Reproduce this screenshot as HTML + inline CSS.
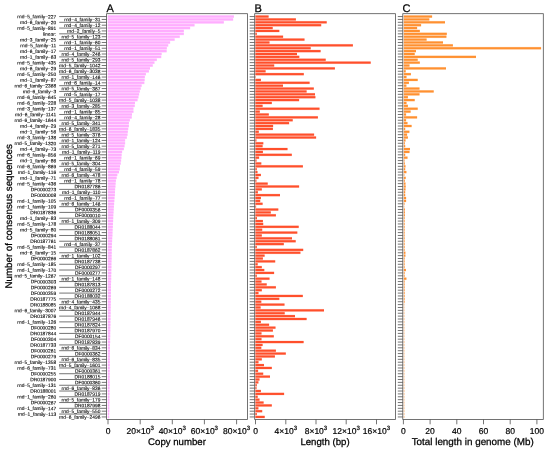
<!DOCTYPE html>
<html lang="en"><head><meta charset="utf-8"><title>Consensus sequences</title>
<style>html,body{margin:0;padding:0;background:#fff}svg{display:block}text{font-family:"Liberation Sans",Arial,Helvetica,sans-serif;fill:#000;text-rendering:geometricPrecision}.s{font-size:4.85px;stroke:#000;stroke-width:0.1px}.t{font-size:8.5px;stroke:#000;stroke-width:0.2px}.h{font-size:9.65px;stroke:#000;stroke-width:0.25px}.p{font-size:11px;stroke:#000;stroke-width:0.25px}</style></head><body>
<svg width="550" height="451" viewBox="0 0 550 451">
<rect width="550" height="451" fill="#fff"/>
<g fill="#FFADFF" fill-opacity="0.38">
<rect x="107.8" y="15.11" width="126.1" height="2.88"/>
<rect x="107.8" y="17.99" width="125.3" height="2.88"/>
<rect x="107.8" y="20.87" width="116.0" height="2.88"/>
<rect x="107.8" y="23.75" width="86.7" height="2.88"/>
<rect x="107.8" y="26.63" width="82.3" height="2.88"/>
<rect x="107.8" y="29.51" width="76.0" height="2.88"/>
<rect x="107.8" y="32.39" width="76.0" height="2.88"/>
<rect x="107.8" y="35.27" width="71.9" height="2.88"/>
<rect x="107.8" y="38.15" width="66.8" height="2.88"/>
<rect x="107.8" y="41.03" width="62.3" height="2.88"/>
<rect x="107.8" y="43.91" width="60.4" height="2.88"/>
<rect x="107.8" y="46.80" width="59.0" height="2.88"/>
<rect x="107.8" y="49.68" width="58.8" height="2.88"/>
<rect x="107.8" y="52.56" width="53.8" height="2.88"/>
<rect x="107.8" y="55.44" width="53.4" height="2.88"/>
<rect x="107.8" y="58.32" width="49.0" height="2.88"/>
<rect x="107.8" y="61.20" width="46.6" height="2.88"/>
<rect x="107.8" y="64.08" width="44.9" height="2.88"/>
<rect x="107.8" y="66.96" width="42.2" height="2.88"/>
<rect x="107.8" y="69.84" width="41.1" height="2.88"/>
<rect x="107.8" y="72.72" width="38.1" height="2.88"/>
<rect x="107.8" y="75.60" width="37.0" height="2.88"/>
<rect x="107.8" y="78.48" width="36.8" height="2.88"/>
<rect x="107.8" y="81.36" width="36.5" height="2.88"/>
<rect x="107.8" y="84.24" width="33.8" height="2.88"/>
<rect x="107.8" y="87.12" width="32.9" height="2.88"/>
<rect x="107.8" y="90.00" width="32.0" height="2.88"/>
<rect x="107.8" y="92.88" width="31.3" height="2.88"/>
<rect x="107.8" y="95.76" width="30.6" height="2.88"/>
<rect x="107.8" y="98.64" width="29.7" height="2.88"/>
<rect x="107.8" y="101.52" width="27.2" height="2.88"/>
<rect x="107.8" y="104.41" width="26.9" height="2.88"/>
<rect x="107.8" y="107.29" width="25.6" height="2.88"/>
<rect x="107.8" y="110.17" width="25.6" height="2.88"/>
<rect x="107.8" y="113.05" width="24.2" height="2.88"/>
<rect x="107.8" y="115.93" width="23.9" height="2.88"/>
<rect x="107.8" y="118.81" width="22.0" height="2.88"/>
<rect x="107.8" y="121.69" width="21.1" height="2.88"/>
<rect x="107.8" y="124.57" width="21.1" height="2.88"/>
<rect x="107.8" y="127.45" width="20.4" height="2.88"/>
<rect x="107.8" y="130.33" width="20.0" height="2.88"/>
<rect x="107.8" y="133.21" width="19.7" height="2.88"/>
<rect x="107.8" y="136.09" width="19.0" height="2.88"/>
<rect x="107.8" y="138.97" width="17.3" height="2.88"/>
<rect x="107.8" y="141.85" width="17.3" height="2.88"/>
<rect x="107.8" y="144.73" width="16.7" height="2.88"/>
<rect x="107.8" y="147.61" width="16.0" height="2.88"/>
<rect x="107.8" y="150.49" width="14.3" height="2.88"/>
<rect x="107.8" y="153.37" width="13.8" height="2.88"/>
<rect x="107.8" y="156.25" width="13.6" height="2.88"/>
<rect x="107.8" y="159.13" width="13.3" height="2.88"/>
<rect x="107.8" y="162.02" width="12.9" height="2.88"/>
<rect x="107.8" y="164.90" width="12.2" height="2.88"/>
<rect x="107.8" y="167.78" width="11.9" height="2.88"/>
<rect x="107.8" y="170.66" width="11.2" height="2.88"/>
<rect x="107.8" y="173.54" width="9.5" height="2.88"/>
<rect x="107.8" y="176.42" width="8.8" height="2.88"/>
<rect x="107.8" y="179.30" width="8.1" height="2.88"/>
<rect x="107.8" y="182.18" width="7.8" height="2.88"/>
<rect x="107.8" y="185.06" width="7.6" height="2.88"/>
<rect x="107.8" y="187.94" width="7.3" height="2.88"/>
<rect x="107.8" y="190.82" width="7.2" height="2.88"/>
<rect x="107.8" y="193.70" width="7.0" height="2.88"/>
<rect x="107.8" y="196.58" width="6.7" height="2.88"/>
<rect x="107.8" y="199.46" width="6.5" height="2.88"/>
<rect x="107.8" y="202.34" width="6.3" height="2.88"/>
<rect x="107.8" y="205.22" width="6.1" height="2.88"/>
<rect x="107.8" y="208.10" width="5.9" height="2.88"/>
<rect x="107.8" y="210.98" width="5.7" height="2.88"/>
<rect x="107.8" y="213.86" width="5.5" height="2.88"/>
<rect x="107.8" y="216.74" width="5.4" height="2.88"/>
<rect x="107.8" y="219.63" width="5.3" height="2.88"/>
<rect x="107.8" y="222.51" width="5.1" height="2.88"/>
<rect x="107.8" y="225.39" width="5.0" height="2.88"/>
<rect x="107.8" y="228.27" width="4.8" height="2.88"/>
<rect x="107.8" y="231.15" width="4.7" height="2.88"/>
<rect x="107.8" y="234.03" width="4.6" height="2.88"/>
<rect x="107.8" y="236.91" width="4.4" height="2.88"/>
<rect x="107.8" y="239.79" width="4.3" height="2.88"/>
<rect x="107.8" y="242.67" width="4.1" height="2.88"/>
<rect x="107.8" y="245.55" width="4.0" height="2.88"/>
<rect x="107.8" y="248.43" width="3.9" height="2.88"/>
<rect x="107.8" y="251.31" width="3.9" height="2.88"/>
<rect x="107.8" y="254.19" width="3.8" height="2.88"/>
<rect x="107.8" y="257.07" width="3.8" height="2.88"/>
<rect x="107.8" y="259.95" width="3.7" height="2.88"/>
<rect x="107.8" y="262.83" width="3.6" height="2.88"/>
<rect x="107.8" y="265.71" width="3.6" height="2.88"/>
<rect x="107.8" y="268.59" width="3.5" height="2.88"/>
<rect x="107.8" y="271.47" width="3.5" height="2.88"/>
<rect x="107.8" y="274.35" width="3.4" height="2.88"/>
<rect x="107.8" y="277.24" width="3.4" height="2.88"/>
<rect x="107.8" y="280.12" width="3.3" height="2.88"/>
<rect x="107.8" y="283.00" width="3.2" height="2.88"/>
<rect x="107.8" y="285.88" width="3.2" height="2.88"/>
<rect x="107.8" y="288.76" width="3.2" height="2.88"/>
<rect x="107.8" y="291.64" width="3.1" height="2.88"/>
<rect x="107.8" y="294.52" width="3.1" height="2.88"/>
<rect x="107.8" y="297.40" width="3.0" height="2.88"/>
<rect x="107.8" y="300.28" width="3.0" height="2.88"/>
<rect x="107.8" y="303.16" width="2.9" height="2.88"/>
<rect x="107.8" y="306.04" width="2.9" height="2.88"/>
<rect x="107.8" y="308.92" width="2.8" height="2.88"/>
<rect x="107.8" y="311.80" width="2.8" height="2.88"/>
<rect x="107.8" y="314.68" width="2.7" height="2.88"/>
<rect x="107.8" y="317.56" width="2.7" height="2.88"/>
<rect x="107.8" y="320.44" width="2.6" height="2.88"/>
<rect x="107.8" y="323.32" width="2.6" height="2.88"/>
<rect x="107.8" y="326.20" width="2.5" height="2.88"/>
<rect x="107.8" y="329.08" width="2.5" height="2.88"/>
<rect x="107.8" y="331.96" width="2.4" height="2.88"/>
<rect x="107.8" y="334.85" width="2.4" height="2.88"/>
<rect x="107.8" y="337.73" width="2.3" height="2.88"/>
<rect x="107.8" y="340.61" width="2.3" height="2.88"/>
<rect x="107.8" y="343.49" width="2.2" height="2.88"/>
<rect x="107.8" y="346.37" width="2.2" height="2.88"/>
<rect x="107.8" y="349.25" width="2.2" height="2.88"/>
<rect x="107.8" y="352.13" width="2.1" height="2.88"/>
<rect x="107.8" y="355.01" width="2.1" height="2.88"/>
<rect x="107.8" y="357.89" width="2.0" height="2.88"/>
<rect x="107.8" y="360.77" width="2.0" height="2.88"/>
<rect x="107.8" y="363.65" width="2.0" height="2.88"/>
<rect x="107.8" y="366.53" width="1.9" height="2.88"/>
<rect x="107.8" y="369.41" width="1.9" height="2.88"/>
<rect x="107.8" y="372.29" width="1.9" height="2.88"/>
<rect x="107.8" y="375.17" width="1.9" height="2.88"/>
<rect x="107.8" y="378.05" width="1.8" height="2.88"/>
<rect x="107.8" y="380.93" width="1.8" height="2.88"/>
<rect x="107.8" y="383.81" width="1.8" height="2.88"/>
<rect x="107.8" y="386.69" width="1.7" height="2.88"/>
<rect x="107.8" y="389.57" width="1.7" height="2.88"/>
<rect x="107.8" y="392.46" width="1.7" height="2.88"/>
<rect x="107.8" y="395.34" width="1.6" height="2.88"/>
<rect x="107.8" y="398.22" width="1.6" height="2.88"/>
<rect x="107.8" y="401.10" width="1.6" height="2.88"/>
<rect x="107.8" y="403.98" width="1.5" height="2.88"/>
<rect x="107.8" y="406.86" width="1.5" height="2.88"/>
<rect x="107.8" y="409.74" width="1.5" height="2.88"/>
<rect x="107.8" y="412.62" width="1.4" height="2.88"/>
<rect x="107.8" y="415.50" width="1.4" height="2.88"/>
</g>
<g fill="#FFADFF">
<rect x="107.8" y="15.50" width="126.1" height="2.1"/>
<rect x="107.8" y="18.38" width="125.3" height="2.1"/>
<rect x="107.8" y="21.26" width="116.0" height="2.1"/>
<rect x="107.8" y="24.14" width="86.7" height="2.1"/>
<rect x="107.8" y="27.02" width="82.3" height="2.1"/>
<rect x="107.8" y="29.90" width="76.0" height="2.1"/>
<rect x="107.8" y="32.78" width="76.0" height="2.1"/>
<rect x="107.8" y="35.66" width="71.9" height="2.1"/>
<rect x="107.8" y="38.54" width="66.8" height="2.1"/>
<rect x="107.8" y="41.42" width="62.3" height="2.1"/>
<rect x="107.8" y="44.31" width="60.4" height="2.1"/>
<rect x="107.8" y="47.19" width="59.0" height="2.1"/>
<rect x="107.8" y="50.07" width="58.8" height="2.1"/>
<rect x="107.8" y="52.95" width="53.8" height="2.1"/>
<rect x="107.8" y="55.83" width="53.4" height="2.1"/>
<rect x="107.8" y="58.71" width="49.0" height="2.1"/>
<rect x="107.8" y="61.59" width="46.6" height="2.1"/>
<rect x="107.8" y="64.47" width="44.9" height="2.1"/>
<rect x="107.8" y="67.35" width="42.2" height="2.1"/>
<rect x="107.8" y="70.23" width="41.1" height="2.1"/>
<rect x="107.8" y="73.11" width="38.1" height="2.1"/>
<rect x="107.8" y="75.99" width="37.0" height="2.1"/>
<rect x="107.8" y="78.87" width="36.8" height="2.1"/>
<rect x="107.8" y="81.75" width="36.5" height="2.1"/>
<rect x="107.8" y="84.63" width="33.8" height="2.1"/>
<rect x="107.8" y="87.51" width="32.9" height="2.1"/>
<rect x="107.8" y="90.39" width="32.0" height="2.1"/>
<rect x="107.8" y="93.27" width="31.3" height="2.1"/>
<rect x="107.8" y="96.15" width="30.6" height="2.1"/>
<rect x="107.8" y="99.03" width="29.7" height="2.1"/>
<rect x="107.8" y="101.92" width="27.2" height="2.1"/>
<rect x="107.8" y="104.80" width="26.9" height="2.1"/>
<rect x="107.8" y="107.68" width="25.6" height="2.1"/>
<rect x="107.8" y="110.56" width="25.6" height="2.1"/>
<rect x="107.8" y="113.44" width="24.2" height="2.1"/>
<rect x="107.8" y="116.32" width="23.9" height="2.1"/>
<rect x="107.8" y="119.20" width="22.0" height="2.1"/>
<rect x="107.8" y="122.08" width="21.1" height="2.1"/>
<rect x="107.8" y="124.96" width="21.1" height="2.1"/>
<rect x="107.8" y="127.84" width="20.4" height="2.1"/>
<rect x="107.8" y="130.72" width="20.0" height="2.1"/>
<rect x="107.8" y="133.60" width="19.7" height="2.1"/>
<rect x="107.8" y="136.48" width="19.0" height="2.1"/>
<rect x="107.8" y="139.36" width="17.3" height="2.1"/>
<rect x="107.8" y="142.24" width="17.3" height="2.1"/>
<rect x="107.8" y="145.12" width="16.7" height="2.1"/>
<rect x="107.8" y="148.00" width="16.0" height="2.1"/>
<rect x="107.8" y="150.88" width="14.3" height="2.1"/>
<rect x="107.8" y="153.76" width="13.8" height="2.1"/>
<rect x="107.8" y="156.64" width="13.6" height="2.1"/>
<rect x="107.8" y="159.53" width="13.3" height="2.1"/>
<rect x="107.8" y="162.41" width="12.9" height="2.1"/>
<rect x="107.8" y="165.29" width="12.2" height="2.1"/>
<rect x="107.8" y="168.17" width="11.9" height="2.1"/>
<rect x="107.8" y="171.05" width="11.2" height="2.1"/>
<rect x="107.8" y="173.93" width="9.5" height="2.1"/>
<rect x="107.8" y="176.81" width="8.8" height="2.1"/>
<rect x="107.8" y="179.69" width="8.1" height="2.1"/>
<rect x="107.8" y="182.57" width="7.8" height="2.1"/>
<rect x="107.8" y="185.45" width="7.6" height="2.1"/>
<rect x="107.8" y="188.33" width="7.3" height="2.1"/>
<rect x="107.8" y="191.21" width="7.2" height="2.1"/>
<rect x="107.8" y="194.09" width="7.0" height="2.1"/>
<rect x="107.8" y="196.97" width="6.7" height="2.1"/>
<rect x="107.8" y="199.85" width="6.5" height="2.1"/>
<rect x="107.8" y="202.73" width="6.3" height="2.1"/>
<rect x="107.8" y="205.61" width="6.1" height="2.1"/>
<rect x="107.8" y="208.49" width="5.9" height="2.1"/>
<rect x="107.8" y="211.37" width="5.7" height="2.1"/>
<rect x="107.8" y="214.25" width="5.5" height="2.1"/>
<rect x="107.8" y="217.13" width="5.4" height="2.1"/>
<rect x="107.8" y="220.02" width="5.3" height="2.1"/>
<rect x="107.8" y="222.90" width="5.1" height="2.1"/>
<rect x="107.8" y="225.78" width="5.0" height="2.1"/>
<rect x="107.8" y="228.66" width="4.8" height="2.1"/>
<rect x="107.8" y="231.54" width="4.7" height="2.1"/>
<rect x="107.8" y="234.42" width="4.6" height="2.1"/>
<rect x="107.8" y="237.30" width="4.4" height="2.1"/>
<rect x="107.8" y="240.18" width="4.3" height="2.1"/>
<rect x="107.8" y="243.06" width="4.1" height="2.1"/>
<rect x="107.8" y="245.94" width="4.0" height="2.1"/>
<rect x="107.8" y="248.82" width="3.9" height="2.1"/>
<rect x="107.8" y="251.70" width="3.9" height="2.1"/>
<rect x="107.8" y="254.58" width="3.8" height="2.1"/>
<rect x="107.8" y="257.46" width="3.8" height="2.1"/>
<rect x="107.8" y="260.34" width="3.7" height="2.1"/>
<rect x="107.8" y="263.22" width="3.6" height="2.1"/>
<rect x="107.8" y="266.10" width="3.6" height="2.1"/>
<rect x="107.8" y="268.98" width="3.5" height="2.1"/>
<rect x="107.8" y="271.86" width="3.5" height="2.1"/>
<rect x="107.8" y="274.75" width="3.4" height="2.1"/>
<rect x="107.8" y="277.63" width="3.4" height="2.1"/>
<rect x="107.8" y="280.51" width="3.3" height="2.1"/>
<rect x="107.8" y="283.39" width="3.2" height="2.1"/>
<rect x="107.8" y="286.27" width="3.2" height="2.1"/>
<rect x="107.8" y="289.15" width="3.2" height="2.1"/>
<rect x="107.8" y="292.03" width="3.1" height="2.1"/>
<rect x="107.8" y="294.91" width="3.1" height="2.1"/>
<rect x="107.8" y="297.79" width="3.0" height="2.1"/>
<rect x="107.8" y="300.67" width="3.0" height="2.1"/>
<rect x="107.8" y="303.55" width="2.9" height="2.1"/>
<rect x="107.8" y="306.43" width="2.9" height="2.1"/>
<rect x="107.8" y="309.31" width="2.8" height="2.1"/>
<rect x="107.8" y="312.19" width="2.8" height="2.1"/>
<rect x="107.8" y="315.07" width="2.7" height="2.1"/>
<rect x="107.8" y="317.95" width="2.7" height="2.1"/>
<rect x="107.8" y="320.83" width="2.6" height="2.1"/>
<rect x="107.8" y="323.71" width="2.6" height="2.1"/>
<rect x="107.8" y="326.59" width="2.5" height="2.1"/>
<rect x="107.8" y="329.47" width="2.5" height="2.1"/>
<rect x="107.8" y="332.36" width="2.4" height="2.1"/>
<rect x="107.8" y="335.24" width="2.4" height="2.1"/>
<rect x="107.8" y="338.12" width="2.3" height="2.1"/>
<rect x="107.8" y="341.00" width="2.3" height="2.1"/>
<rect x="107.8" y="343.88" width="2.2" height="2.1"/>
<rect x="107.8" y="346.76" width="2.2" height="2.1"/>
<rect x="107.8" y="349.64" width="2.2" height="2.1"/>
<rect x="107.8" y="352.52" width="2.1" height="2.1"/>
<rect x="107.8" y="355.40" width="2.1" height="2.1"/>
<rect x="107.8" y="358.28" width="2.0" height="2.1"/>
<rect x="107.8" y="361.16" width="2.0" height="2.1"/>
<rect x="107.8" y="364.04" width="2.0" height="2.1"/>
<rect x="107.8" y="366.92" width="1.9" height="2.1"/>
<rect x="107.8" y="369.80" width="1.9" height="2.1"/>
<rect x="107.8" y="372.68" width="1.9" height="2.1"/>
<rect x="107.8" y="375.56" width="1.9" height="2.1"/>
<rect x="107.8" y="378.44" width="1.8" height="2.1"/>
<rect x="107.8" y="381.32" width="1.8" height="2.1"/>
<rect x="107.8" y="384.20" width="1.8" height="2.1"/>
<rect x="107.8" y="387.08" width="1.7" height="2.1"/>
<rect x="107.8" y="389.97" width="1.7" height="2.1"/>
<rect x="107.8" y="392.85" width="1.7" height="2.1"/>
<rect x="107.8" y="395.73" width="1.6" height="2.1"/>
<rect x="107.8" y="398.61" width="1.6" height="2.1"/>
<rect x="107.8" y="401.49" width="1.6" height="2.1"/>
<rect x="107.8" y="404.37" width="1.5" height="2.1"/>
<rect x="107.8" y="407.25" width="1.5" height="2.1"/>
<rect x="107.8" y="410.13" width="1.5" height="2.1"/>
<rect x="107.8" y="413.01" width="1.4" height="2.1"/>
<rect x="107.8" y="415.89" width="1.4" height="2.1"/>
</g>
<g fill="#FF4F2B" fill-opacity="0.22">
<rect x="255.4" y="15.11" width="13.2" height="2.88"/>
<rect x="255.4" y="17.99" width="40.5" height="2.88"/>
<rect x="255.4" y="20.87" width="71.3" height="2.88"/>
<rect x="255.4" y="23.75" width="65.8" height="2.88"/>
<rect x="255.4" y="26.63" width="17.3" height="2.88"/>
<rect x="255.4" y="29.51" width="23.9" height="2.88"/>
<rect x="255.4" y="32.39" width="1.4" height="2.88"/>
<rect x="255.4" y="35.27" width="27.7" height="2.88"/>
<rect x="255.4" y="38.15" width="49.1" height="2.88"/>
<rect x="255.4" y="41.03" width="14.1" height="2.88"/>
<rect x="255.4" y="43.91" width="97.5" height="2.88"/>
<rect x="255.4" y="46.80" width="55.3" height="2.88"/>
<rect x="255.4" y="49.68" width="65.2" height="2.88"/>
<rect x="255.4" y="52.56" width="41.6" height="2.88"/>
<rect x="255.4" y="55.44" width="43.9" height="2.88"/>
<rect x="255.4" y="58.32" width="70.3" height="2.88"/>
<rect x="255.4" y="61.20" width="115.3" height="2.88"/>
<rect x="255.4" y="64.08" width="18.8" height="2.88"/>
<rect x="255.4" y="66.96" width="79.5" height="2.88"/>
<rect x="255.4" y="69.84" width="10.2" height="2.88"/>
<rect x="255.4" y="72.72" width="48.4" height="2.88"/>
<rect x="255.4" y="78.48" width="5.5" height="2.88"/>
<rect x="255.4" y="81.36" width="54.2" height="2.88"/>
<rect x="255.4" y="84.24" width="27.6" height="2.88"/>
<rect x="255.4" y="87.12" width="58.4" height="2.88"/>
<rect x="255.4" y="90.00" width="51.2" height="2.88"/>
<rect x="255.4" y="92.88" width="59.6" height="2.88"/>
<rect x="255.4" y="95.76" width="60.0" height="2.88"/>
<rect x="255.4" y="98.64" width="43.7" height="2.88"/>
<rect x="255.4" y="101.52" width="16.4" height="2.88"/>
<rect x="255.4" y="104.41" width="7.2" height="2.88"/>
<rect x="255.4" y="107.29" width="64.1" height="2.88"/>
<rect x="255.4" y="110.17" width="4.4" height="2.88"/>
<rect x="255.4" y="113.05" width="13.4" height="2.88"/>
<rect x="255.4" y="115.93" width="62.5" height="2.88"/>
<rect x="255.4" y="118.81" width="37.3" height="2.88"/>
<rect x="255.4" y="121.69" width="33.7" height="2.88"/>
<rect x="255.4" y="124.57" width="17.7" height="2.88"/>
<rect x="255.4" y="127.45" width="17.5" height="2.88"/>
<rect x="255.4" y="130.33" width="3.4" height="2.88"/>
<rect x="255.4" y="133.21" width="58.7" height="2.88"/>
<rect x="255.4" y="136.09" width="60.7" height="2.88"/>
<rect x="255.4" y="138.97" width="1.0" height="2.88"/>
<rect x="255.4" y="141.85" width="7.9" height="2.88"/>
<rect x="255.4" y="144.73" width="7.2" height="2.88"/>
<rect x="255.4" y="147.61" width="32.1" height="2.88"/>
<rect x="255.4" y="150.49" width="7.5" height="2.88"/>
<rect x="255.4" y="153.37" width="36.4" height="2.88"/>
<rect x="255.4" y="156.25" width="3.7" height="2.88"/>
<rect x="255.4" y="159.13" width="1.1" height="2.88"/>
<rect x="255.4" y="162.02" width="5.9" height="2.88"/>
<rect x="255.4" y="164.90" width="47.5" height="2.88"/>
<rect x="255.4" y="167.78" width="1.4" height="2.88"/>
<rect x="255.4" y="170.66" width="2.1" height="2.88"/>
<rect x="255.4" y="173.54" width="5.5" height="2.88"/>
<rect x="255.4" y="176.42" width="3.1" height="2.88"/>
<rect x="255.4" y="179.30" width="1.0" height="2.88"/>
<rect x="255.4" y="182.18" width="12.3" height="2.88"/>
<rect x="255.4" y="185.06" width="43.7" height="2.88"/>
<rect x="255.4" y="187.94" width="6.4" height="2.88"/>
<rect x="255.4" y="190.82" width="2.5" height="2.88"/>
<rect x="255.4" y="193.70" width="24.6" height="2.88"/>
<rect x="255.4" y="196.58" width="5.5" height="2.88"/>
<rect x="255.4" y="199.46" width="4.8" height="2.88"/>
<rect x="255.4" y="202.34" width="7.2" height="2.88"/>
<rect x="255.4" y="205.22" width="0.7" height="2.88"/>
<rect x="255.4" y="208.10" width="22.9" height="2.88"/>
<rect x="255.4" y="210.98" width="15.4" height="2.88"/>
<rect x="255.4" y="213.86" width="20.5" height="2.88"/>
<rect x="255.4" y="216.74" width="1.6" height="2.88"/>
<rect x="255.4" y="219.63" width="7.5" height="2.88"/>
<rect x="255.4" y="222.51" width="7.8" height="2.88"/>
<rect x="255.4" y="225.39" width="43.3" height="2.88"/>
<rect x="255.4" y="228.27" width="6.8" height="2.88"/>
<rect x="255.4" y="231.15" width="41.9" height="2.88"/>
<rect x="255.4" y="234.03" width="6.4" height="2.88"/>
<rect x="255.4" y="236.91" width="36.6" height="2.88"/>
<rect x="255.4" y="239.79" width="40.3" height="2.88"/>
<rect x="255.4" y="242.67" width="28.4" height="2.88"/>
<rect x="255.4" y="245.55" width="1.4" height="2.88"/>
<rect x="255.4" y="248.43" width="47.8" height="2.88"/>
<rect x="255.4" y="251.31" width="45.0" height="2.88"/>
<rect x="255.4" y="254.19" width="9.2" height="2.88"/>
<rect x="255.4" y="257.07" width="7.5" height="2.88"/>
<rect x="255.4" y="259.95" width="19.8" height="2.88"/>
<rect x="255.4" y="262.83" width="2.3" height="2.88"/>
<rect x="255.4" y="265.71" width="6.4" height="2.88"/>
<rect x="255.4" y="268.59" width="8.9" height="2.88"/>
<rect x="255.4" y="271.47" width="18.7" height="2.88"/>
<rect x="255.4" y="274.35" width="1.4" height="2.88"/>
<rect x="255.4" y="277.24" width="14.1" height="2.88"/>
<rect x="255.4" y="280.12" width="6.1" height="2.88"/>
<rect x="255.4" y="283.00" width="11.3" height="2.88"/>
<rect x="255.4" y="285.88" width="20.5" height="2.88"/>
<rect x="255.4" y="288.76" width="6.4" height="2.88"/>
<rect x="255.4" y="291.64" width="3.1" height="2.88"/>
<rect x="255.4" y="294.52" width="47.4" height="2.88"/>
<rect x="255.4" y="297.40" width="23.9" height="2.88"/>
<rect x="255.4" y="300.28" width="5.9" height="2.88"/>
<rect x="255.4" y="303.16" width="29.1" height="2.88"/>
<rect x="255.4" y="306.04" width="5.2" height="2.88"/>
<rect x="255.4" y="308.92" width="68.6" height="2.88"/>
<rect x="255.4" y="311.80" width="29.3" height="2.88"/>
<rect x="255.4" y="314.68" width="39.6" height="2.88"/>
<rect x="255.4" y="317.56" width="51.2" height="2.88"/>
<rect x="255.4" y="320.44" width="5.5" height="2.88"/>
<rect x="255.4" y="323.32" width="13.7" height="2.88"/>
<rect x="255.4" y="326.20" width="20.1" height="2.88"/>
<rect x="255.4" y="329.08" width="17.5" height="2.88"/>
<rect x="255.4" y="331.96" width="6.1" height="2.88"/>
<rect x="255.4" y="334.85" width="18.4" height="2.88"/>
<rect x="255.4" y="337.73" width="6.1" height="2.88"/>
<rect x="255.4" y="340.61" width="48.2" height="2.88"/>
<rect x="255.4" y="343.49" width="7.2" height="2.88"/>
<rect x="255.4" y="346.37" width="5.9" height="2.88"/>
<rect x="255.4" y="349.25" width="20.5" height="2.88"/>
<rect x="255.4" y="352.13" width="30.4" height="2.88"/>
<rect x="255.4" y="355.01" width="19.5" height="2.88"/>
<rect x="255.4" y="357.89" width="6.4" height="2.88"/>
<rect x="255.4" y="360.77" width="3.1" height="2.88"/>
<rect x="255.4" y="363.65" width="8.6" height="2.88"/>
<rect x="255.4" y="366.53" width="16.4" height="2.88"/>
<rect x="255.4" y="369.41" width="2.7" height="2.88"/>
<rect x="255.4" y="372.29" width="7.8" height="2.88"/>
<rect x="255.4" y="375.17" width="14.6" height="2.88"/>
<rect x="255.4" y="378.05" width="4.1" height="2.88"/>
<rect x="255.4" y="380.93" width="3.0" height="2.88"/>
<rect x="255.4" y="383.81" width="1.4" height="2.88"/>
<rect x="255.4" y="386.69" width="1.1" height="2.88"/>
<rect x="255.4" y="389.57" width="5.5" height="2.88"/>
<rect x="255.4" y="392.46" width="28.7" height="2.88"/>
<rect x="255.4" y="395.34" width="2.3" height="2.88"/>
<rect x="255.4" y="398.22" width="4.1" height="2.88"/>
<rect x="255.4" y="401.10" width="8.2" height="2.88"/>
<rect x="255.4" y="403.98" width="16.4" height="2.88"/>
<rect x="255.4" y="406.86" width="3.0" height="2.88"/>
<rect x="255.4" y="409.74" width="6.8" height="2.88"/>
<rect x="255.4" y="412.62" width="1.4" height="2.88"/>
<rect x="255.4" y="415.50" width="9.3" height="2.88"/>
</g>
<g fill="#FF4F2B">
<rect x="255.4" y="15.50" width="13.2" height="2.1"/>
<rect x="255.4" y="18.38" width="40.5" height="2.1"/>
<rect x="255.4" y="21.26" width="71.3" height="2.1"/>
<rect x="255.4" y="24.14" width="65.8" height="2.1"/>
<rect x="255.4" y="27.02" width="17.3" height="2.1"/>
<rect x="255.4" y="29.90" width="23.9" height="2.1"/>
<rect x="255.4" y="32.78" width="1.4" height="2.1"/>
<rect x="255.4" y="35.66" width="27.7" height="2.1"/>
<rect x="255.4" y="38.54" width="49.1" height="2.1"/>
<rect x="255.4" y="41.42" width="14.1" height="2.1"/>
<rect x="255.4" y="44.31" width="97.5" height="2.1"/>
<rect x="255.4" y="47.19" width="55.3" height="2.1"/>
<rect x="255.4" y="50.07" width="65.2" height="2.1"/>
<rect x="255.4" y="52.95" width="41.6" height="2.1"/>
<rect x="255.4" y="55.83" width="43.9" height="2.1"/>
<rect x="255.4" y="58.71" width="70.3" height="2.1"/>
<rect x="255.4" y="61.59" width="115.3" height="2.1"/>
<rect x="255.4" y="64.47" width="18.8" height="2.1"/>
<rect x="255.4" y="67.35" width="79.5" height="2.1"/>
<rect x="255.4" y="70.23" width="10.2" height="2.1"/>
<rect x="255.4" y="73.11" width="48.4" height="2.1"/>
<rect x="255.4" y="75.99" width="0.4" height="2.1"/>
<rect x="255.4" y="78.87" width="5.5" height="2.1"/>
<rect x="255.4" y="81.75" width="54.2" height="2.1"/>
<rect x="255.4" y="84.63" width="27.6" height="2.1"/>
<rect x="255.4" y="87.51" width="58.4" height="2.1"/>
<rect x="255.4" y="90.39" width="51.2" height="2.1"/>
<rect x="255.4" y="93.27" width="59.6" height="2.1"/>
<rect x="255.4" y="96.15" width="60.0" height="2.1"/>
<rect x="255.4" y="99.03" width="43.7" height="2.1"/>
<rect x="255.4" y="101.92" width="16.4" height="2.1"/>
<rect x="255.4" y="104.80" width="7.2" height="2.1"/>
<rect x="255.4" y="107.68" width="64.1" height="2.1"/>
<rect x="255.4" y="110.56" width="4.4" height="2.1"/>
<rect x="255.4" y="113.44" width="13.4" height="2.1"/>
<rect x="255.4" y="116.32" width="62.5" height="2.1"/>
<rect x="255.4" y="119.20" width="37.3" height="2.1"/>
<rect x="255.4" y="122.08" width="33.7" height="2.1"/>
<rect x="255.4" y="124.96" width="17.7" height="2.1"/>
<rect x="255.4" y="127.84" width="17.5" height="2.1"/>
<rect x="255.4" y="130.72" width="3.4" height="2.1"/>
<rect x="255.4" y="133.60" width="58.7" height="2.1"/>
<rect x="255.4" y="136.48" width="60.7" height="2.1"/>
<rect x="255.4" y="139.36" width="1.0" height="2.1"/>
<rect x="255.4" y="142.24" width="7.9" height="2.1"/>
<rect x="255.4" y="145.12" width="7.2" height="2.1"/>
<rect x="255.4" y="148.00" width="32.1" height="2.1"/>
<rect x="255.4" y="150.88" width="7.5" height="2.1"/>
<rect x="255.4" y="153.76" width="36.4" height="2.1"/>
<rect x="255.4" y="156.64" width="3.7" height="2.1"/>
<rect x="255.4" y="159.53" width="1.1" height="2.1"/>
<rect x="255.4" y="162.41" width="5.9" height="2.1"/>
<rect x="255.4" y="165.29" width="47.5" height="2.1"/>
<rect x="255.4" y="168.17" width="1.4" height="2.1"/>
<rect x="255.4" y="171.05" width="2.1" height="2.1"/>
<rect x="255.4" y="173.93" width="5.5" height="2.1"/>
<rect x="255.4" y="176.81" width="3.1" height="2.1"/>
<rect x="255.4" y="179.69" width="1.0" height="2.1"/>
<rect x="255.4" y="182.57" width="12.3" height="2.1"/>
<rect x="255.4" y="185.45" width="43.7" height="2.1"/>
<rect x="255.4" y="188.33" width="6.4" height="2.1"/>
<rect x="255.4" y="191.21" width="2.5" height="2.1"/>
<rect x="255.4" y="194.09" width="24.6" height="2.1"/>
<rect x="255.4" y="196.97" width="5.5" height="2.1"/>
<rect x="255.4" y="199.85" width="4.8" height="2.1"/>
<rect x="255.4" y="202.73" width="7.2" height="2.1"/>
<rect x="255.4" y="205.61" width="0.7" height="2.1"/>
<rect x="255.4" y="208.49" width="22.9" height="2.1"/>
<rect x="255.4" y="211.37" width="15.4" height="2.1"/>
<rect x="255.4" y="214.25" width="20.5" height="2.1"/>
<rect x="255.4" y="217.13" width="1.6" height="2.1"/>
<rect x="255.4" y="220.02" width="7.5" height="2.1"/>
<rect x="255.4" y="222.90" width="7.8" height="2.1"/>
<rect x="255.4" y="225.78" width="43.3" height="2.1"/>
<rect x="255.4" y="228.66" width="6.8" height="2.1"/>
<rect x="255.4" y="231.54" width="41.9" height="2.1"/>
<rect x="255.4" y="234.42" width="6.4" height="2.1"/>
<rect x="255.4" y="237.30" width="36.6" height="2.1"/>
<rect x="255.4" y="240.18" width="40.3" height="2.1"/>
<rect x="255.4" y="243.06" width="28.4" height="2.1"/>
<rect x="255.4" y="245.94" width="1.4" height="2.1"/>
<rect x="255.4" y="248.82" width="47.8" height="2.1"/>
<rect x="255.4" y="251.70" width="45.0" height="2.1"/>
<rect x="255.4" y="254.58" width="9.2" height="2.1"/>
<rect x="255.4" y="257.46" width="7.5" height="2.1"/>
<rect x="255.4" y="260.34" width="19.8" height="2.1"/>
<rect x="255.4" y="263.22" width="2.3" height="2.1"/>
<rect x="255.4" y="266.10" width="6.4" height="2.1"/>
<rect x="255.4" y="268.98" width="8.9" height="2.1"/>
<rect x="255.4" y="271.86" width="18.7" height="2.1"/>
<rect x="255.4" y="274.75" width="1.4" height="2.1"/>
<rect x="255.4" y="277.63" width="14.1" height="2.1"/>
<rect x="255.4" y="280.51" width="6.1" height="2.1"/>
<rect x="255.4" y="283.39" width="11.3" height="2.1"/>
<rect x="255.4" y="286.27" width="20.5" height="2.1"/>
<rect x="255.4" y="289.15" width="6.4" height="2.1"/>
<rect x="255.4" y="292.03" width="3.1" height="2.1"/>
<rect x="255.4" y="294.91" width="47.4" height="2.1"/>
<rect x="255.4" y="297.79" width="23.9" height="2.1"/>
<rect x="255.4" y="300.67" width="5.9" height="2.1"/>
<rect x="255.4" y="303.55" width="29.1" height="2.1"/>
<rect x="255.4" y="306.43" width="5.2" height="2.1"/>
<rect x="255.4" y="309.31" width="68.6" height="2.1"/>
<rect x="255.4" y="312.19" width="29.3" height="2.1"/>
<rect x="255.4" y="315.07" width="39.6" height="2.1"/>
<rect x="255.4" y="317.95" width="51.2" height="2.1"/>
<rect x="255.4" y="320.83" width="5.5" height="2.1"/>
<rect x="255.4" y="323.71" width="13.7" height="2.1"/>
<rect x="255.4" y="326.59" width="20.1" height="2.1"/>
<rect x="255.4" y="329.47" width="17.5" height="2.1"/>
<rect x="255.4" y="332.36" width="6.1" height="2.1"/>
<rect x="255.4" y="335.24" width="18.4" height="2.1"/>
<rect x="255.4" y="338.12" width="6.1" height="2.1"/>
<rect x="255.4" y="341.00" width="48.2" height="2.1"/>
<rect x="255.4" y="343.88" width="7.2" height="2.1"/>
<rect x="255.4" y="346.76" width="5.9" height="2.1"/>
<rect x="255.4" y="349.64" width="20.5" height="2.1"/>
<rect x="255.4" y="352.52" width="30.4" height="2.1"/>
<rect x="255.4" y="355.40" width="19.5" height="2.1"/>
<rect x="255.4" y="358.28" width="6.4" height="2.1"/>
<rect x="255.4" y="361.16" width="3.1" height="2.1"/>
<rect x="255.4" y="364.04" width="8.6" height="2.1"/>
<rect x="255.4" y="366.92" width="16.4" height="2.1"/>
<rect x="255.4" y="369.80" width="2.7" height="2.1"/>
<rect x="255.4" y="372.68" width="7.8" height="2.1"/>
<rect x="255.4" y="375.56" width="14.6" height="2.1"/>
<rect x="255.4" y="378.44" width="4.1" height="2.1"/>
<rect x="255.4" y="381.32" width="3.0" height="2.1"/>
<rect x="255.4" y="384.20" width="1.4" height="2.1"/>
<rect x="255.4" y="387.08" width="1.1" height="2.1"/>
<rect x="255.4" y="389.97" width="5.5" height="2.1"/>
<rect x="255.4" y="392.85" width="28.7" height="2.1"/>
<rect x="255.4" y="395.73" width="2.3" height="2.1"/>
<rect x="255.4" y="398.61" width="4.1" height="2.1"/>
<rect x="255.4" y="401.49" width="8.2" height="2.1"/>
<rect x="255.4" y="404.37" width="16.4" height="2.1"/>
<rect x="255.4" y="407.25" width="3.0" height="2.1"/>
<rect x="255.4" y="410.13" width="6.8" height="2.1"/>
<rect x="255.4" y="413.01" width="1.4" height="2.1"/>
<rect x="255.4" y="415.89" width="9.3" height="2.1"/>
</g>
<g fill="#FF9030" fill-opacity="0.22">
<rect x="403.8" y="15.11" width="28.3" height="2.88"/>
<rect x="403.8" y="17.99" width="25.5" height="2.88"/>
<rect x="403.8" y="20.87" width="41.2" height="2.88"/>
<rect x="403.8" y="23.75" width="17.3" height="2.88"/>
<rect x="403.8" y="26.63" width="13.3" height="2.88"/>
<rect x="403.8" y="29.51" width="16.0" height="2.88"/>
<rect x="403.8" y="32.39" width="43.0" height="2.88"/>
<rect x="403.8" y="35.27" width="42.6" height="2.88"/>
<rect x="403.8" y="38.15" width="22.8" height="2.88"/>
<rect x="403.8" y="41.03" width="39.2" height="2.88"/>
<rect x="403.8" y="43.91" width="49.1" height="2.88"/>
<rect x="403.8" y="46.80" width="137.3" height="2.88"/>
<rect x="403.8" y="49.68" width="12.2" height="2.88"/>
<rect x="403.8" y="52.56" width="10.9" height="2.88"/>
<rect x="403.8" y="55.44" width="72.2" height="2.88"/>
<rect x="403.8" y="58.32" width="13.9" height="2.88"/>
<rect x="403.8" y="61.20" width="16.0" height="2.88"/>
<rect x="403.8" y="64.08" width="5.7" height="2.88"/>
<rect x="403.8" y="66.96" width="42.2" height="2.88"/>
<rect x="403.8" y="69.84" width="1.9" height="2.88"/>
<rect x="403.8" y="72.72" width="7.1" height="2.88"/>
<rect x="403.8" y="75.60" width="2.7" height="2.88"/>
<rect x="403.8" y="78.48" width="13.9" height="2.88"/>
<rect x="403.8" y="81.36" width="5.1" height="2.88"/>
<rect x="403.8" y="84.24" width="2.6" height="2.88"/>
<rect x="403.8" y="87.12" width="15.7" height="2.88"/>
<rect x="403.8" y="90.00" width="29.9" height="2.88"/>
<rect x="403.8" y="92.88" width="15.7" height="2.88"/>
<rect x="403.8" y="95.76" width="4.1" height="2.88"/>
<rect x="403.8" y="98.64" width="10.9" height="2.88"/>
<rect x="403.8" y="101.52" width="2.7" height="2.88"/>
<rect x="403.8" y="104.41" width="4.1" height="2.88"/>
<rect x="403.8" y="107.29" width="13.9" height="2.88"/>
<rect x="403.8" y="110.17" width="6.8" height="2.88"/>
<rect x="403.8" y="113.05" width="2.3" height="2.88"/>
<rect x="403.8" y="115.93" width="13.3" height="2.88"/>
<rect x="403.8" y="118.81" width="2.3" height="2.88"/>
<rect x="403.8" y="121.69" width="3.7" height="2.88"/>
<rect x="403.8" y="124.57" width="7.8" height="2.88"/>
<rect x="403.8" y="127.45" width="1.4" height="2.88"/>
<rect x="403.8" y="130.33" width="5.6" height="2.88"/>
<rect x="403.8" y="133.21" width="3.3" height="2.88"/>
<rect x="403.8" y="136.09" width="4.1" height="2.88"/>
<rect x="403.8" y="138.97" width="1.7" height="2.88"/>
<rect x="403.8" y="141.85" width="1.0" height="2.88"/>
<rect x="403.8" y="144.73" width="1.4" height="2.88"/>
<rect x="403.8" y="147.61" width="6.2" height="2.88"/>
<rect x="403.8" y="150.49" width="5.7" height="2.88"/>
<rect x="403.8" y="153.37" width="1.4" height="2.88"/>
<rect x="403.8" y="156.25" width="3.7" height="2.88"/>
<rect x="403.8" y="159.13" width="0.7" height="2.88"/>
<rect x="403.8" y="162.02" width="1.0" height="2.88"/>
<rect x="403.8" y="164.90" width="1.7" height="2.88"/>
<rect x="403.8" y="167.78" width="1.4" height="2.88"/>
<rect x="403.8" y="170.66" width="2.6" height="2.88"/>
<rect x="403.8" y="176.42" width="1.9" height="2.88"/>
<rect x="403.8" y="179.30" width="1.0" height="2.88"/>
<rect x="403.8" y="182.18" width="1.7" height="2.88"/>
<rect x="403.8" y="185.06" width="1.9" height="2.88"/>
<rect x="403.8" y="187.94" width="1.7" height="2.88"/>
<rect x="403.8" y="190.82" width="1.4" height="2.88"/>
<rect x="403.8" y="193.70" width="1.4" height="2.88"/>
<rect x="403.8" y="196.58" width="2.3" height="2.88"/>
<rect x="403.8" y="199.46" width="2.3" height="2.88"/>
<rect x="403.8" y="202.34" width="0.7" height="2.88"/>
<rect x="403.8" y="208.10" width="1.1" height="2.88"/>
<rect x="403.8" y="210.98" width="1.1" height="2.88"/>
<rect x="403.8" y="213.86" width="1.1" height="2.88"/>
<rect x="403.8" y="216.74" width="0.8" height="2.88"/>
<rect x="403.8" y="219.63" width="0.8" height="2.88"/>
<rect x="403.8" y="222.51" width="0.8" height="2.88"/>
<rect x="403.8" y="225.39" width="0.8" height="2.88"/>
<rect x="403.8" y="228.27" width="0.8" height="2.88"/>
<rect x="403.8" y="231.15" width="0.8" height="2.88"/>
<rect x="403.8" y="234.03" width="0.8" height="2.88"/>
<rect x="403.8" y="236.91" width="0.8" height="2.88"/>
<rect x="403.8" y="239.79" width="0.8" height="2.88"/>
<rect x="403.8" y="242.67" width="0.8" height="2.88"/>
<rect x="403.8" y="245.55" width="0.8" height="2.88"/>
<rect x="403.8" y="248.43" width="0.8" height="2.88"/>
<rect x="403.8" y="251.31" width="1.6" height="2.88"/>
<rect x="403.8" y="254.19" width="1.6" height="2.88"/>
<rect x="403.8" y="257.07" width="0.8" height="2.88"/>
<rect x="403.8" y="259.95" width="0.8" height="2.88"/>
<rect x="403.8" y="262.83" width="0.8" height="2.88"/>
<rect x="403.8" y="265.71" width="0.8" height="2.88"/>
<rect x="403.8" y="268.59" width="2.1" height="2.88"/>
<rect x="403.8" y="271.47" width="0.8" height="2.88"/>
<rect x="403.8" y="274.35" width="0.8" height="2.88"/>
<rect x="403.8" y="277.24" width="2.6" height="2.88"/>
<rect x="403.8" y="280.12" width="0.8" height="2.88"/>
<rect x="403.8" y="283.00" width="0.8" height="2.88"/>
<rect x="403.8" y="285.88" width="0.8" height="2.88"/>
<rect x="403.8" y="288.76" width="0.8" height="2.88"/>
<rect x="403.8" y="291.64" width="0.8" height="2.88"/>
<rect x="403.8" y="294.52" width="0.8" height="2.88"/>
<rect x="403.8" y="297.40" width="0.8" height="2.88"/>
<rect x="403.8" y="300.28" width="0.8" height="2.88"/>
</g>
<g fill="#FF9030">
<rect x="403.8" y="15.50" width="28.3" height="2.1"/>
<rect x="403.8" y="18.38" width="25.5" height="2.1"/>
<rect x="403.8" y="21.26" width="41.2" height="2.1"/>
<rect x="403.8" y="24.14" width="17.3" height="2.1"/>
<rect x="403.8" y="27.02" width="13.3" height="2.1"/>
<rect x="403.8" y="29.90" width="16.0" height="2.1"/>
<rect x="403.8" y="32.78" width="43.0" height="2.1"/>
<rect x="403.8" y="35.66" width="42.6" height="2.1"/>
<rect x="403.8" y="38.54" width="22.8" height="2.1"/>
<rect x="403.8" y="41.42" width="39.2" height="2.1"/>
<rect x="403.8" y="44.31" width="49.1" height="2.1"/>
<rect x="403.8" y="47.19" width="137.3" height="2.1"/>
<rect x="403.8" y="50.07" width="12.2" height="2.1"/>
<rect x="403.8" y="52.95" width="10.9" height="2.1"/>
<rect x="403.8" y="55.83" width="72.2" height="2.1"/>
<rect x="403.8" y="58.71" width="13.9" height="2.1"/>
<rect x="403.8" y="61.59" width="16.0" height="2.1"/>
<rect x="403.8" y="64.47" width="5.7" height="2.1"/>
<rect x="403.8" y="67.35" width="42.2" height="2.1"/>
<rect x="403.8" y="70.23" width="1.9" height="2.1"/>
<rect x="403.8" y="73.11" width="7.1" height="2.1"/>
<rect x="403.8" y="75.99" width="2.7" height="2.1"/>
<rect x="403.8" y="78.87" width="13.9" height="2.1"/>
<rect x="403.8" y="81.75" width="5.1" height="2.1"/>
<rect x="403.8" y="84.63" width="2.6" height="2.1"/>
<rect x="403.8" y="87.51" width="15.7" height="2.1"/>
<rect x="403.8" y="90.39" width="29.9" height="2.1"/>
<rect x="403.8" y="93.27" width="15.7" height="2.1"/>
<rect x="403.8" y="96.15" width="4.1" height="2.1"/>
<rect x="403.8" y="99.03" width="10.9" height="2.1"/>
<rect x="403.8" y="101.92" width="2.7" height="2.1"/>
<rect x="403.8" y="104.80" width="4.1" height="2.1"/>
<rect x="403.8" y="107.68" width="13.9" height="2.1"/>
<rect x="403.8" y="110.56" width="6.8" height="2.1"/>
<rect x="403.8" y="113.44" width="2.3" height="2.1"/>
<rect x="403.8" y="116.32" width="13.3" height="2.1"/>
<rect x="403.8" y="119.20" width="2.3" height="2.1"/>
<rect x="403.8" y="122.08" width="3.7" height="2.1"/>
<rect x="403.8" y="124.96" width="7.8" height="2.1"/>
<rect x="403.8" y="127.84" width="1.4" height="2.1"/>
<rect x="403.8" y="130.72" width="5.6" height="2.1"/>
<rect x="403.8" y="133.60" width="3.3" height="2.1"/>
<rect x="403.8" y="136.48" width="4.1" height="2.1"/>
<rect x="403.8" y="139.36" width="1.7" height="2.1"/>
<rect x="403.8" y="142.24" width="1.0" height="2.1"/>
<rect x="403.8" y="145.12" width="1.4" height="2.1"/>
<rect x="403.8" y="148.00" width="6.2" height="2.1"/>
<rect x="403.8" y="150.88" width="5.7" height="2.1"/>
<rect x="403.8" y="153.76" width="1.4" height="2.1"/>
<rect x="403.8" y="156.64" width="3.7" height="2.1"/>
<rect x="403.8" y="159.53" width="0.7" height="2.1"/>
<rect x="403.8" y="162.41" width="1.0" height="2.1"/>
<rect x="403.8" y="165.29" width="1.7" height="2.1"/>
<rect x="403.8" y="168.17" width="1.4" height="2.1"/>
<rect x="403.8" y="171.05" width="2.6" height="2.1"/>
<rect x="403.8" y="173.93" width="0.6" height="2.1"/>
<rect x="403.8" y="176.81" width="1.9" height="2.1"/>
<rect x="403.8" y="179.69" width="1.0" height="2.1"/>
<rect x="403.8" y="182.57" width="1.7" height="2.1"/>
<rect x="403.8" y="185.45" width="1.9" height="2.1"/>
<rect x="403.8" y="188.33" width="1.7" height="2.1"/>
<rect x="403.8" y="191.21" width="1.4" height="2.1"/>
<rect x="403.8" y="194.09" width="1.4" height="2.1"/>
<rect x="403.8" y="196.97" width="2.3" height="2.1"/>
<rect x="403.8" y="199.85" width="2.3" height="2.1"/>
<rect x="403.8" y="202.73" width="0.7" height="2.1"/>
<rect x="403.8" y="205.61" width="0.5" height="2.1"/>
<rect x="403.8" y="208.49" width="1.1" height="2.1"/>
<rect x="403.8" y="211.37" width="1.1" height="2.1"/>
<rect x="403.8" y="214.25" width="1.1" height="2.1"/>
<rect x="403.8" y="217.13" width="0.8" height="2.1"/>
<rect x="403.8" y="220.02" width="0.8" height="2.1"/>
<rect x="403.8" y="222.90" width="0.8" height="2.1"/>
<rect x="403.8" y="225.78" width="0.8" height="2.1"/>
<rect x="403.8" y="228.66" width="0.8" height="2.1"/>
<rect x="403.8" y="231.54" width="0.8" height="2.1"/>
<rect x="403.8" y="234.42" width="0.8" height="2.1"/>
<rect x="403.8" y="237.30" width="0.8" height="2.1"/>
<rect x="403.8" y="240.18" width="0.8" height="2.1"/>
<rect x="403.8" y="243.06" width="0.8" height="2.1"/>
<rect x="403.8" y="245.94" width="0.8" height="2.1"/>
<rect x="403.8" y="248.82" width="0.8" height="2.1"/>
<rect x="403.8" y="251.70" width="1.6" height="2.1"/>
<rect x="403.8" y="254.58" width="1.6" height="2.1"/>
<rect x="403.8" y="257.46" width="0.8" height="2.1"/>
<rect x="403.8" y="260.34" width="0.8" height="2.1"/>
<rect x="403.8" y="263.22" width="0.8" height="2.1"/>
<rect x="403.8" y="266.10" width="0.8" height="2.1"/>
<rect x="403.8" y="268.98" width="2.1" height="2.1"/>
<rect x="403.8" y="271.86" width="0.8" height="2.1"/>
<rect x="403.8" y="274.75" width="0.8" height="2.1"/>
<rect x="403.8" y="277.63" width="2.6" height="2.1"/>
<rect x="403.8" y="280.51" width="0.8" height="2.1"/>
<rect x="403.8" y="283.39" width="0.8" height="2.1"/>
<rect x="403.8" y="286.27" width="0.8" height="2.1"/>
<rect x="403.8" y="289.15" width="0.8" height="2.1"/>
<rect x="403.8" y="292.03" width="0.8" height="2.1"/>
<rect x="403.8" y="294.91" width="0.8" height="2.1"/>
<rect x="403.8" y="297.79" width="0.8" height="2.1"/>
<rect x="403.8" y="300.67" width="0.8" height="2.1"/>
<rect x="403.8" y="303.55" width="0.5" height="2.1"/>
<rect x="403.8" y="306.43" width="0.5" height="2.1"/>
<rect x="403.8" y="309.31" width="0.5" height="2.1"/>
<rect x="403.8" y="312.19" width="0.5" height="2.1"/>
<rect x="403.8" y="315.07" width="0.5" height="2.1"/>
<rect x="403.8" y="317.95" width="0.5" height="2.1"/>
<rect x="403.8" y="320.83" width="0.5" height="2.1"/>
<rect x="403.8" y="323.71" width="0.5" height="2.1"/>
<rect x="403.8" y="326.59" width="0.5" height="2.1"/>
<rect x="403.8" y="329.47" width="0.5" height="2.1"/>
<rect x="403.8" y="332.36" width="0.5" height="2.1"/>
<rect x="403.8" y="335.24" width="0.5" height="2.1"/>
<rect x="403.8" y="338.12" width="0.5" height="2.1"/>
<rect x="403.8" y="341.00" width="0.5" height="2.1"/>
<rect x="403.8" y="343.88" width="0.5" height="2.1"/>
<rect x="403.8" y="346.76" width="0.5" height="2.1"/>
<rect x="403.8" y="349.64" width="0.5" height="2.1"/>
<rect x="403.8" y="352.52" width="0.5" height="2.1"/>
<rect x="403.8" y="355.40" width="0.5" height="2.1"/>
<rect x="403.8" y="358.28" width="0.5" height="2.1"/>
<rect x="403.8" y="361.16" width="0.5" height="2.1"/>
<rect x="403.8" y="364.04" width="0.5" height="2.1"/>
<rect x="403.8" y="366.92" width="0.5" height="2.1"/>
<rect x="403.8" y="369.80" width="0.5" height="2.1"/>
<rect x="403.8" y="372.68" width="0.5" height="2.1"/>
<rect x="403.8" y="375.56" width="0.5" height="2.1"/>
<rect x="403.8" y="378.44" width="0.5" height="2.1"/>
<rect x="403.8" y="381.32" width="0.5" height="2.1"/>
<rect x="403.8" y="384.20" width="0.5" height="2.1"/>
<rect x="403.8" y="387.08" width="0.5" height="2.1"/>
<rect x="403.8" y="389.97" width="0.5" height="2.1"/>
<rect x="403.8" y="392.85" width="0.5" height="2.1"/>
<rect x="403.8" y="395.73" width="0.5" height="2.1"/>
<rect x="403.8" y="398.61" width="0.5" height="2.1"/>
<rect x="403.8" y="401.49" width="0.5" height="2.1"/>
<rect x="403.8" y="404.37" width="0.5" height="2.1"/>
<rect x="403.8" y="407.25" width="0.5" height="2.1"/>
<rect x="403.8" y="410.13" width="0.5" height="2.1"/>
<rect x="403.8" y="413.01" width="0.5" height="2.1"/>
<rect x="403.8" y="415.89" width="0.5" height="2.1"/>
</g>
<g stroke="#505050" stroke-width="0.8" fill="none">
<path d="M59.2 16.55H106.6M249.7 16.55H254.7M397.8 16.55H402.8M101.7 19.43H106.6M249.7 19.43H254.7M397.8 19.43H402.8M59.2 22.31H106.6M249.7 22.31H254.7M397.8 22.31H402.8M101.7 25.19H106.6M249.7 25.19H254.7M397.8 25.19H402.8M59.2 28.07H106.6M249.7 28.07H254.7M397.8 28.07H402.8M101.7 30.95H106.6M249.7 30.95H254.7M397.8 30.95H402.8M59.2 33.83H106.6M249.7 33.83H254.7M397.8 33.83H402.8M101.7 36.71H106.6M249.7 36.71H254.7M397.8 36.71H402.8M59.2 39.59H106.6M249.7 39.59H254.7M397.8 39.59H402.8M101.7 42.47H106.6M249.7 42.47H254.7M397.8 42.47H402.8M59.2 45.36H106.6M249.7 45.36H254.7M397.8 45.36H402.8M101.7 48.24H106.6M249.7 48.24H254.7M397.8 48.24H402.8M59.2 51.12H106.6M249.7 51.12H254.7M397.8 51.12H402.8M101.7 54.00H106.6M249.7 54.00H254.7M397.8 54.00H402.8M59.2 56.88H106.6M249.7 56.88H254.7M397.8 56.88H402.8M101.7 59.76H106.6M249.7 59.76H254.7M397.8 59.76H402.8M59.2 62.64H106.6M249.7 62.64H254.7M397.8 62.64H402.8M101.7 65.52H106.6M249.7 65.52H254.7M397.8 65.52H402.8M59.2 68.40H106.6M249.7 68.40H254.7M397.8 68.40H402.8M101.7 71.28H106.6M249.7 71.28H254.7M397.8 71.28H402.8M59.2 74.16H106.6M249.7 74.16H254.7M397.8 74.16H402.8M101.7 77.04H106.6M249.7 77.04H254.7M397.8 77.04H402.8M59.2 79.92H106.6M249.7 79.92H254.7M397.8 79.92H402.8M101.7 82.80H106.6M249.7 82.80H254.7M397.8 82.80H402.8M59.2 85.68H106.6M249.7 85.68H254.7M397.8 85.68H402.8M101.7 88.56H106.6M249.7 88.56H254.7M397.8 88.56H402.8M59.2 91.44H106.6M249.7 91.44H254.7M397.8 91.44H402.8M101.7 94.32H106.6M249.7 94.32H254.7M397.8 94.32H402.8M59.2 97.20H106.6M249.7 97.20H254.7M397.8 97.20H402.8M101.7 100.08H106.6M249.7 100.08H254.7M397.8 100.08H402.8M59.2 102.97H106.6M249.7 102.97H254.7M397.8 102.97H402.8M101.7 105.85H106.6M249.7 105.85H254.7M397.8 105.85H402.8M59.2 108.73H106.6M249.7 108.73H254.7M397.8 108.73H402.8M101.7 111.61H106.6M249.7 111.61H254.7M397.8 111.61H402.8M59.2 114.49H106.6M249.7 114.49H254.7M397.8 114.49H402.8M101.7 117.37H106.6M249.7 117.37H254.7M397.8 117.37H402.8M59.2 120.25H106.6M249.7 120.25H254.7M397.8 120.25H402.8M101.7 123.13H106.6M249.7 123.13H254.7M397.8 123.13H402.8M59.2 126.01H106.6M249.7 126.01H254.7M397.8 126.01H402.8M101.7 128.89H106.6M249.7 128.89H254.7M397.8 128.89H402.8M59.2 131.77H106.6M249.7 131.77H254.7M397.8 131.77H402.8M101.7 134.65H106.6M249.7 134.65H254.7M397.8 134.65H402.8M59.2 137.53H106.6M249.7 137.53H254.7M397.8 137.53H402.8M101.7 140.41H106.6M249.7 140.41H254.7M397.8 140.41H402.8M59.2 143.29H106.6M249.7 143.29H254.7M397.8 143.29H402.8M101.7 146.17H106.6M249.7 146.17H254.7M397.8 146.17H402.8M59.2 149.05H106.6M249.7 149.05H254.7M397.8 149.05H402.8M101.7 151.93H106.6M249.7 151.93H254.7M397.8 151.93H402.8M59.2 154.81H106.6M249.7 154.81H254.7M397.8 154.81H402.8M101.7 157.69H106.6M249.7 157.69H254.7M397.8 157.69H402.8M59.2 160.58H106.6M249.7 160.58H254.7M397.8 160.58H402.8M101.7 163.46H106.6M249.7 163.46H254.7M397.8 163.46H402.8M59.2 166.34H106.6M249.7 166.34H254.7M397.8 166.34H402.8M101.7 169.22H106.6M249.7 169.22H254.7M397.8 169.22H402.8M59.2 172.10H106.6M249.7 172.10H254.7M397.8 172.10H402.8M101.7 174.98H106.6M249.7 174.98H254.7M397.8 174.98H402.8M59.2 177.86H106.6M249.7 177.86H254.7M397.8 177.86H402.8M101.7 180.74H106.6M249.7 180.74H254.7M397.8 180.74H402.8M59.2 183.62H106.6M249.7 183.62H254.7M397.8 183.62H402.8M101.7 186.50H106.6M249.7 186.50H254.7M397.8 186.50H402.8M59.2 189.38H106.6M249.7 189.38H254.7M397.8 189.38H402.8M101.7 192.26H106.6M249.7 192.26H254.7M397.8 192.26H402.8M59.2 195.14H106.6M249.7 195.14H254.7M397.8 195.14H402.8M101.7 198.02H106.6M249.7 198.02H254.7M397.8 198.02H402.8M59.2 200.90H106.6M249.7 200.90H254.7M397.8 200.90H402.8M101.7 203.78H106.6M249.7 203.78H254.7M397.8 203.78H402.8M59.2 206.66H106.6M249.7 206.66H254.7M397.8 206.66H402.8M101.7 209.54H106.6M249.7 209.54H254.7M397.8 209.54H402.8M59.2 212.42H106.6M249.7 212.42H254.7M397.8 212.42H402.8M101.7 215.30H106.6M249.7 215.30H254.7M397.8 215.30H402.8M59.2 218.19H106.6M249.7 218.19H254.7M397.8 218.19H402.8M101.7 221.07H106.6M249.7 221.07H254.7M397.8 221.07H402.8M59.2 223.95H106.6M249.7 223.95H254.7M397.8 223.95H402.8M101.7 226.83H106.6M249.7 226.83H254.7M397.8 226.83H402.8M59.2 229.71H106.6M249.7 229.71H254.7M397.8 229.71H402.8M101.7 232.59H106.6M249.7 232.59H254.7M397.8 232.59H402.8M59.2 235.47H106.6M249.7 235.47H254.7M397.8 235.47H402.8M101.7 238.35H106.6M249.7 238.35H254.7M397.8 238.35H402.8M59.2 241.23H106.6M249.7 241.23H254.7M397.8 241.23H402.8M101.7 244.11H106.6M249.7 244.11H254.7M397.8 244.11H402.8M59.2 246.99H106.6M249.7 246.99H254.7M397.8 246.99H402.8M101.7 249.87H106.6M249.7 249.87H254.7M397.8 249.87H402.8M59.2 252.75H106.6M249.7 252.75H254.7M397.8 252.75H402.8M101.7 255.63H106.6M249.7 255.63H254.7M397.8 255.63H402.8M59.2 258.51H106.6M249.7 258.51H254.7M397.8 258.51H402.8M101.7 261.39H106.6M249.7 261.39H254.7M397.8 261.39H402.8M59.2 264.27H106.6M249.7 264.27H254.7M397.8 264.27H402.8M101.7 267.15H106.6M249.7 267.15H254.7M397.8 267.15H402.8M59.2 270.03H106.6M249.7 270.03H254.7M397.8 270.03H402.8M101.7 272.91H106.6M249.7 272.91H254.7M397.8 272.91H402.8M59.2 275.80H106.6M249.7 275.80H254.7M397.8 275.80H402.8M101.7 278.68H106.6M249.7 278.68H254.7M397.8 278.68H402.8M59.2 281.56H106.6M249.7 281.56H254.7M397.8 281.56H402.8M101.7 284.44H106.6M249.7 284.44H254.7M397.8 284.44H402.8M59.2 287.32H106.6M249.7 287.32H254.7M397.8 287.32H402.8M101.7 290.20H106.6M249.7 290.20H254.7M397.8 290.20H402.8M59.2 293.08H106.6M249.7 293.08H254.7M397.8 293.08H402.8M101.7 295.96H106.6M249.7 295.96H254.7M397.8 295.96H402.8M59.2 298.84H106.6M249.7 298.84H254.7M397.8 298.84H402.8M101.7 301.72H106.6M249.7 301.72H254.7M397.8 301.72H402.8M59.2 304.60H106.6M249.7 304.60H254.7M397.8 304.60H402.8M101.7 307.48H106.6M249.7 307.48H254.7M397.8 307.48H402.8M59.2 310.36H106.6M249.7 310.36H254.7M397.8 310.36H402.8M101.7 313.24H106.6M249.7 313.24H254.7M397.8 313.24H402.8M59.2 316.12H106.6M249.7 316.12H254.7M397.8 316.12H402.8M101.7 319.00H106.6M249.7 319.00H254.7M397.8 319.00H402.8M59.2 321.88H106.6M249.7 321.88H254.7M397.8 321.88H402.8M101.7 324.76H106.6M249.7 324.76H254.7M397.8 324.76H402.8M59.2 327.64H106.6M249.7 327.64H254.7M397.8 327.64H402.8M101.7 330.52H106.6M249.7 330.52H254.7M397.8 330.52H402.8M59.2 333.41H106.6M249.7 333.41H254.7M397.8 333.41H402.8M101.7 336.29H106.6M249.7 336.29H254.7M397.8 336.29H402.8M59.2 339.17H106.6M249.7 339.17H254.7M397.8 339.17H402.8M101.7 342.05H106.6M249.7 342.05H254.7M397.8 342.05H402.8M59.2 344.93H106.6M249.7 344.93H254.7M397.8 344.93H402.8M101.7 347.81H106.6M249.7 347.81H254.7M397.8 347.81H402.8M59.2 350.69H106.6M249.7 350.69H254.7M397.8 350.69H402.8M101.7 353.57H106.6M249.7 353.57H254.7M397.8 353.57H402.8M59.2 356.45H106.6M249.7 356.45H254.7M397.8 356.45H402.8M101.7 359.33H106.6M249.7 359.33H254.7M397.8 359.33H402.8M59.2 362.21H106.6M249.7 362.21H254.7M397.8 362.21H402.8M101.7 365.09H106.6M249.7 365.09H254.7M397.8 365.09H402.8M59.2 367.97H106.6M249.7 367.97H254.7M397.8 367.97H402.8M101.7 370.85H106.6M249.7 370.85H254.7M397.8 370.85H402.8M59.2 373.73H106.6M249.7 373.73H254.7M397.8 373.73H402.8M101.7 376.61H106.6M249.7 376.61H254.7M397.8 376.61H402.8M59.2 379.49H106.6M249.7 379.49H254.7M397.8 379.49H402.8M101.7 382.37H106.6M249.7 382.37H254.7M397.8 382.37H402.8M59.2 385.25H106.6M249.7 385.25H254.7M397.8 385.25H402.8M101.7 388.13H106.6M249.7 388.13H254.7M397.8 388.13H402.8M59.2 391.02H106.6M249.7 391.02H254.7M397.8 391.02H402.8M101.7 393.90H106.6M249.7 393.90H254.7M397.8 393.90H402.8M59.2 396.78H106.6M249.7 396.78H254.7M397.8 396.78H402.8M101.7 399.66H106.6M249.7 399.66H254.7M397.8 399.66H402.8M59.2 402.54H106.6M249.7 402.54H254.7M397.8 402.54H402.8M101.7 405.42H106.6M249.7 405.42H254.7M397.8 405.42H402.8M59.2 408.30H106.6M249.7 408.30H254.7M397.8 408.30H402.8M101.7 411.18H106.6M249.7 411.18H254.7M397.8 411.18H402.8M59.2 414.06H106.6M249.7 414.06H254.7M397.8 414.06H402.8M101.7 416.94H106.6M249.7 416.94H254.7M397.8 416.94H402.8"/>
<rect x="106.6" y="13.7" width="140.9" height="405.8"/>
<rect x="254.7" y="13.7" width="140.9" height="405.8"/>
<rect x="402.8" y="13.7" width="140.5" height="405.8"/>
<path d="M108.0 419.5V424.3M140.2 419.5V424.3M172.3 419.5V424.3M204.4 419.5V424.3M236.6 419.5V424.3M255.5 419.5V424.3M285.8 419.5V424.3M316.0 419.5V424.3M346.2 419.5V424.3M376.5 419.5V424.3M403.4 419.5V424.3M430.1 419.5V424.3M456.8 419.5V424.3M483.5 419.5V424.3M510.2 419.5V424.3M536.9 419.5V424.3"/>
</g>
<g class="s" text-anchor="end">
<text transform="translate(56.1 18.40) rotate(0.1)">rnd−5_family−227</text>
<text transform="translate(100.4 21.28) rotate(0.1)">rnd−4_family−31</text>
<text transform="translate(56.1 24.16) rotate(0.1)">rnd−6_family−20</text>
<text transform="translate(100.4 27.04) rotate(0.1)">rnd−4_family−12</text>
<text transform="translate(56.1 29.92) rotate(0.1)">rnd−5_family−891</text>
<text transform="translate(100.4 32.80) rotate(0.1)">rnd−2_family−5</text>
<text transform="translate(56.1 35.68) rotate(0.1)">linear:</text>
<text transform="translate(100.4 38.56) rotate(0.1)">rnd−5_family−123</text>
<text transform="translate(56.1 41.44) rotate(0.1)">rnd−3_family−25</text>
<text transform="translate(100.4 44.32) rotate(0.1)">rnd−1_family−60</text>
<text transform="translate(56.1 47.21) rotate(0.1)">rnd−5_family−11</text>
<text transform="translate(100.4 50.09) rotate(0.1)">rnd−1_family−51</text>
<text transform="translate(56.1 52.97) rotate(0.1)">rnd−6_family−17</text>
<text transform="translate(100.4 55.85) rotate(0.1)">rnd−4_family−246</text>
<text transform="translate(56.1 58.73) rotate(0.1)">rnd−1_family−63</text>
<text transform="translate(100.4 61.61) rotate(0.1)">rnd−5_family−293</text>
<text transform="translate(56.1 64.49) rotate(0.1)">rnd−5_family−435</text>
<text transform="translate(100.4 67.37) rotate(0.1)">rnd−5_family−1042</text>
<text transform="translate(56.1 70.25) rotate(0.1)">rnd−6_family−29</text>
<text transform="translate(100.4 73.13) rotate(0.1)">rnd−6_family−3038</text>
<text transform="translate(56.1 76.01) rotate(0.1)">rnd−5_family−250</text>
<text transform="translate(100.4 78.89) rotate(0.1)">rnd−1_family−146</text>
<text transform="translate(56.1 81.77) rotate(0.1)">rnd−1_family−87</text>
<text transform="translate(100.4 84.65) rotate(0.1)">rnd−6_family−14</text>
<text transform="translate(56.1 87.53) rotate(0.1)">rnd−6_family−2368</text>
<text transform="translate(100.4 90.41) rotate(0.1)">rnd−5_family−367</text>
<text transform="translate(56.1 93.29) rotate(0.1)">rnd−6_family−3</text>
<text transform="translate(100.4 96.17) rotate(0.1)">rnd−5_family−17</text>
<text transform="translate(56.1 99.05) rotate(0.1)">rnd−6_family−645</text>
<text transform="translate(100.4 101.93) rotate(0.1)">rnd−5_family−1038</text>
<text transform="translate(56.1 104.81) rotate(0.1)">rnd−6_family−228</text>
<text transform="translate(100.4 107.70) rotate(0.1)">rnd−3_family−285</text>
<text transform="translate(56.1 110.58) rotate(0.1)">rnd−3_family−137</text>
<text transform="translate(100.4 113.46) rotate(0.1)">rnd−1_family−85</text>
<text transform="translate(56.1 116.34) rotate(0.1)">rnd−6_family−1141</text>
<text transform="translate(100.4 119.22) rotate(0.1)">rnd−4_family−28</text>
<text transform="translate(56.1 122.10) rotate(0.1)">rnd−6_family−1644</text>
<text transform="translate(100.4 124.98) rotate(0.1)">rnd−5_family−341</text>
<text transform="translate(56.1 127.86) rotate(0.1)">rnd−4_family−29</text>
<text transform="translate(100.4 130.74) rotate(0.1)">rnd−6_family−1835</text>
<text transform="translate(56.1 133.62) rotate(0.1)">rnd−1_family−56</text>
<text transform="translate(100.4 136.50) rotate(0.1)">rnd−5_family−376</text>
<text transform="translate(56.1 139.38) rotate(0.1)">rnd−3_family−138</text>
<text transform="translate(100.4 142.26) rotate(0.1)">rnd−1_family−124</text>
<text transform="translate(56.1 145.14) rotate(0.1)">rnd−5_family−1320</text>
<text transform="translate(100.4 148.02) rotate(0.1)">rnd−5_family−271</text>
<text transform="translate(56.1 150.90) rotate(0.1)">rnd−4_family−73</text>
<text transform="translate(100.4 153.78) rotate(0.1)">rnd−1_family−119</text>
<text transform="translate(56.1 156.66) rotate(0.1)">rnd−6_family−856</text>
<text transform="translate(100.4 159.54) rotate(0.1)">rnd−1_family−69</text>
<text transform="translate(56.1 162.43) rotate(0.1)">rnd−1_family−86</text>
<text transform="translate(100.4 165.31) rotate(0.1)">rnd−5_family−304</text>
<text transform="translate(56.1 168.19) rotate(0.1)">rnd−6_family−869</text>
<text transform="translate(100.4 171.07) rotate(0.1)">rnd−4_family−59</text>
<text transform="translate(56.1 173.95) rotate(0.1)">rnd−1_family−116</text>
<text transform="translate(100.4 176.83) rotate(0.1)">rnd−6_family−478</text>
<text transform="translate(56.1 179.71) rotate(0.1)">rnd−1_family−71</text>
<text transform="translate(100.4 182.59) rotate(0.1)">rnd−1_family−78</text>
<text transform="translate(56.1 185.47) rotate(0.1)">rnd−5_family−436</text>
<text transform="translate(100.4 188.35) rotate(0.1)">DR0187786</text>
<text transform="translate(56.1 191.23) rotate(0.1)">DF0000273</text>
<text transform="translate(100.4 194.11) rotate(0.1)">rnd−1_family−110</text>
<text transform="translate(56.1 196.99) rotate(0.1)">DF0000008</text>
<text transform="translate(100.4 199.87) rotate(0.1)">rnd−1_family−77</text>
<text transform="translate(56.1 202.75) rotate(0.1)">rnd−1_family−105</text>
<text transform="translate(100.4 205.63) rotate(0.1)">rnd−6_family−146</text>
<text transform="translate(56.1 208.51) rotate(0.1)">rnd−1_family−109</text>
<text transform="translate(100.4 211.39) rotate(0.1)">DF0000356</text>
<text transform="translate(56.1 214.27) rotate(0.1)">DR0187836</text>
<text transform="translate(100.4 217.15) rotate(0.1)">DF0000010</text>
<text transform="translate(56.1 220.03) rotate(0.1)">rnd−1_family−83</text>
<text transform="translate(100.4 222.92) rotate(0.1)">rnd−1_family−309</text>
<text transform="translate(56.1 225.80) rotate(0.1)">rnd−5_family−178</text>
<text transform="translate(100.4 228.68) rotate(0.1)">DR0188044</text>
<text transform="translate(56.1 231.56) rotate(0.1)">rnd−5_family−80</text>
<text transform="translate(100.4 234.44) rotate(0.1)">DR0188051</text>
<text transform="translate(56.1 237.32) rotate(0.1)">DF0000294</text>
<text transform="translate(100.4 240.20) rotate(0.1)">DR0188061</text>
<text transform="translate(56.1 243.08) rotate(0.1)">DR0187761</text>
<text transform="translate(100.4 245.96) rotate(0.1)">rnd−4_family−37</text>
<text transform="translate(56.1 248.84) rotate(0.1)">rnd−5_family−841</text>
<text transform="translate(100.4 251.72) rotate(0.1)">DR0187862</text>
<text transform="translate(56.1 254.60) rotate(0.1)">rnd−6_family−15</text>
<text transform="translate(100.4 257.48) rotate(0.1)">rnd−1_family−102</text>
<text transform="translate(56.1 260.36) rotate(0.1)">DF0000266</text>
<text transform="translate(100.4 263.24) rotate(0.1)">DR0187738</text>
<text transform="translate(56.1 266.12) rotate(0.1)">rnd−5_family−185</text>
<text transform="translate(100.4 269.00) rotate(0.1)">DF0000297</text>
<text transform="translate(56.1 271.88) rotate(0.1)">rnd−1_family−170</text>
<text transform="translate(100.4 274.76) rotate(0.1)">DF0000277</text>
<text transform="translate(56.1 277.65) rotate(0.1)">rnd−5_family−1267</text>
<text transform="translate(100.4 280.53) rotate(0.1)">rnd−1_family−148</text>
<text transform="translate(56.1 283.41) rotate(0.1)">DF0000303</text>
<text transform="translate(100.4 286.29) rotate(0.1)">DR0187813</text>
<text transform="translate(56.1 289.17) rotate(0.1)">DF0000269</text>
<text transform="translate(100.4 292.05) rotate(0.1)">DF0000272</text>
<text transform="translate(56.1 294.93) rotate(0.1)">DF0000359</text>
<text transform="translate(100.4 297.81) rotate(0.1)">DR0188032</text>
<text transform="translate(56.1 300.69) rotate(0.1)">DR0187775</text>
<text transform="translate(100.4 303.57) rotate(0.1)">rnd−4_family−435</text>
<text transform="translate(56.1 306.45) rotate(0.1)">DR0188085</text>
<text transform="translate(100.4 309.33) rotate(0.1)">rnd−4_family−1068</text>
<text transform="translate(56.1 312.21) rotate(0.1)">rnd−6_family−3007</text>
<text transform="translate(100.4 315.09) rotate(0.1)">DR0187944</text>
<text transform="translate(56.1 317.97) rotate(0.1)">DR0187876</text>
<text transform="translate(100.4 320.85) rotate(0.1)">DR0187946</text>
<text transform="translate(56.1 323.73) rotate(0.1)">rnd−1_family−126</text>
<text transform="translate(100.4 326.61) rotate(0.1)">DR0187824</text>
<text transform="translate(56.1 329.49) rotate(0.1)">DF0000280</text>
<text transform="translate(100.4 332.37) rotate(0.1)">DR0187970</text>
<text transform="translate(56.1 335.26) rotate(0.1)">DR0187844</text>
<text transform="translate(100.4 338.14) rotate(0.1)">DF0000154</text>
<text transform="translate(56.1 341.02) rotate(0.1)">DF0000304</text>
<text transform="translate(100.4 343.90) rotate(0.1)">DR0187839</text>
<text transform="translate(56.1 346.78) rotate(0.1)">DR0187733</text>
<text transform="translate(100.4 349.66) rotate(0.1)">rnd−6_family−834</text>
<text transform="translate(56.1 352.54) rotate(0.1)">DF0000261</text>
<text transform="translate(100.4 355.42) rotate(0.1)">DF0000362</text>
<text transform="translate(56.1 358.30) rotate(0.1)">DF0000279</text>
<text transform="translate(100.4 361.18) rotate(0.1)">rnd−6_family−835</text>
<text transform="translate(56.1 364.06) rotate(0.1)">rnd−5_family−1358</text>
<text transform="translate(100.4 366.94) rotate(0.1)">rnd−5_family−1601</text>
<text transform="translate(56.1 369.82) rotate(0.1)">rnd−6_family−731</text>
<text transform="translate(100.4 372.70) rotate(0.1)">DF0000361</text>
<text transform="translate(56.1 375.58) rotate(0.1)">DF0000255</text>
<text transform="translate(100.4 378.46) rotate(0.1)">DR0188015</text>
<text transform="translate(56.1 381.34) rotate(0.1)">DR0187900</text>
<text transform="translate(100.4 384.22) rotate(0.1)">DF0000360</text>
<text transform="translate(56.1 387.10) rotate(0.1)">rnd−5_family−131</text>
<text transform="translate(100.4 389.98) rotate(0.1)">rnd−6_family−836</text>
<text transform="translate(56.1 392.87) rotate(0.1)">DR0188001</text>
<text transform="translate(100.4 395.75) rotate(0.1)">DR0187919</text>
<text transform="translate(56.1 398.63) rotate(0.1)">rnd−1_family−260</text>
<text transform="translate(100.4 401.51) rotate(0.1)">rnd−5_family−179</text>
<text transform="translate(56.1 404.39) rotate(0.1)">DF0000267</text>
<text transform="translate(100.4 407.27) rotate(0.1)">DR0187998</text>
<text transform="translate(56.1 410.15) rotate(0.1)">rnd−1_family−147</text>
<text transform="translate(100.4 413.03) rotate(0.1)">rnd−5_family−550</text>
<text transform="translate(56.1 415.91) rotate(0.1)">rnd−1_family−113</text>
<text transform="translate(100.4 418.79) rotate(0.1)">rnd−6_family−2496</text>
</g>
<g class="t">
<text x="108.0" y="433.5" text-anchor="middle">0</text>
<text transform="translate(140.2 433.5) scale(1 1)" text-anchor="middle">20×10<tspan dy="-4" font-size="6.2">3</tspan></text>
<text transform="translate(172.3 433.5) scale(1 1)" text-anchor="middle">40×10<tspan dy="-4" font-size="6.2">3</tspan></text>
<text transform="translate(204.4 433.5) scale(1 1)" text-anchor="middle">60×10<tspan dy="-4" font-size="6.2">3</tspan></text>
<text transform="translate(236.6 433.5) scale(1 1)" text-anchor="middle">80×10<tspan dy="-4" font-size="6.2">3</tspan></text>
<text x="255.5" y="433.5" text-anchor="middle">0</text>
<text transform="translate(285.8 433.5) scale(1 1)" text-anchor="middle">4×10<tspan dy="-4" font-size="6.2">3</tspan></text>
<text transform="translate(316.0 433.5) scale(1 1)" text-anchor="middle">8×10<tspan dy="-4" font-size="6.2">3</tspan></text>
<text transform="translate(346.2 433.5) scale(1 1)" text-anchor="middle">12×10<tspan dy="-4" font-size="6.2">3</tspan></text>
<text transform="translate(376.5 433.5) scale(1 1)" text-anchor="middle">16×10<tspan dy="-4" font-size="6.2">3</tspan></text>
<text x="403.4" y="433.5" text-anchor="middle">0</text>
<text x="430.1" y="433.5" text-anchor="middle">20</text>
<text x="456.8" y="433.5" text-anchor="middle">40</text>
<text x="483.5" y="433.5" text-anchor="middle">60</text>
<text x="510.2" y="433.5" text-anchor="middle">80</text>
<text x="536.9" y="433.5" text-anchor="middle">100</text>
</g>
<g class="h" text-anchor="middle">
<text x="177" y="444.8">Copy number</text>
<text x="325" y="444.8">Length (bp)</text>
<text x="472.7" y="444.8" style="font-size:9.85px">Total length in genome (Mb)</text>
<text transform="translate(12.1 216.3) rotate(-90)" style="font-size:9.72px">Number of consensus sequences</text>
</g>
<g class="p"><text x="106.4" y="11.6">A</text><text x="254.6" y="11.6">B</text><text x="402.6" y="11.6">C</text></g>
</svg></body></html>
